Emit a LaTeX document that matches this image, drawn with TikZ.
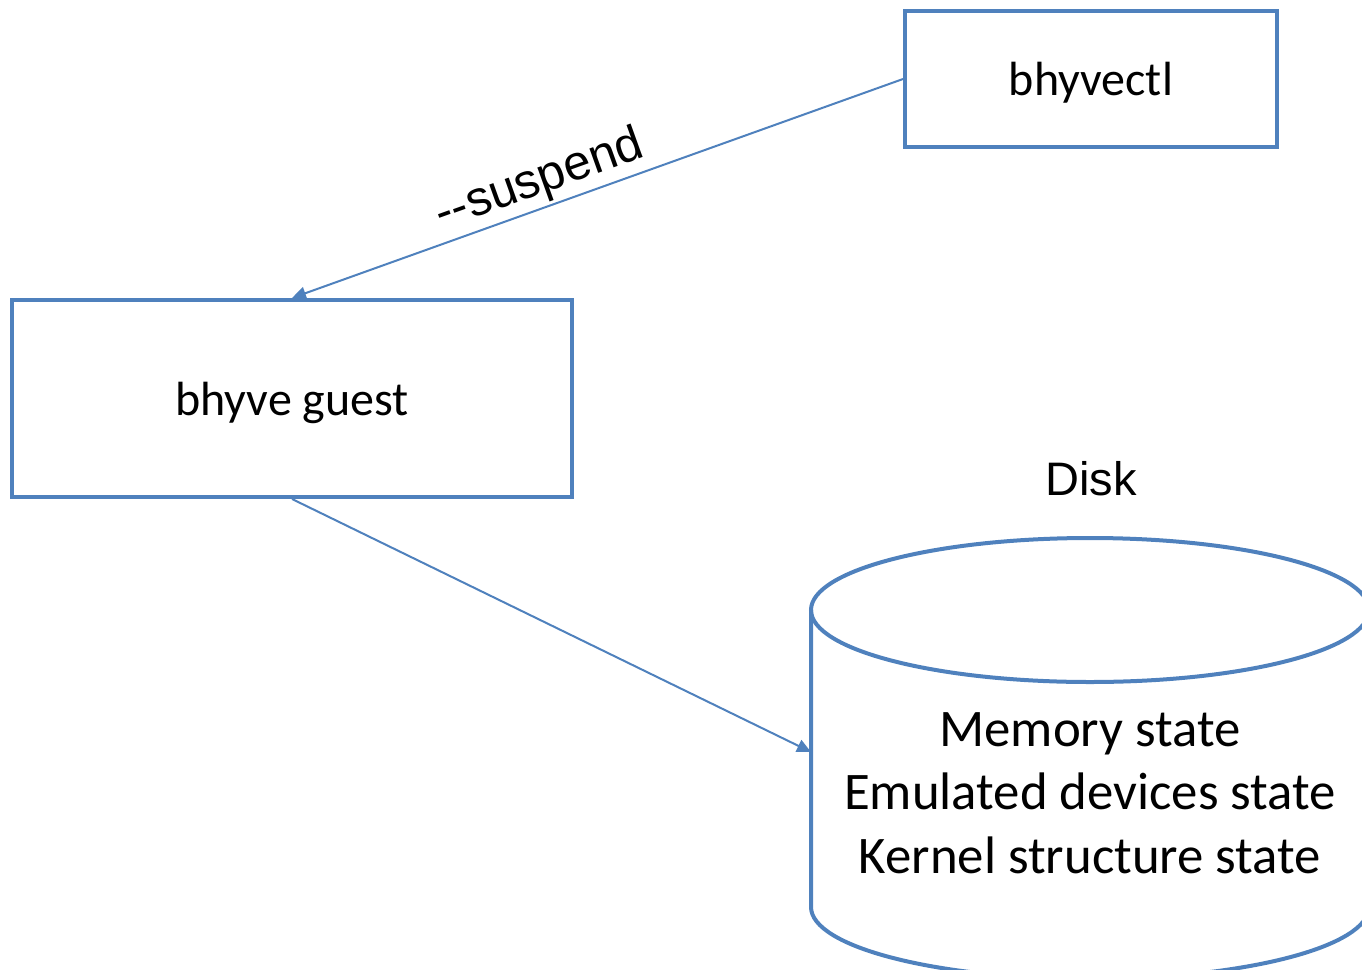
\documentclass[tikz,border=0pt]{standalone}
\usepackage{fontspec}
\setmainfont{Carlito}
\newfontfamily\arialfont{Liberation Sans}
\usepackage{tikz}
\usetikzlibrary{arrows.meta}
\usetikzlibrary{positioning}
\definecolor{boxblue}{RGB}{79,129,189}

\begin{document}
\begin{tikzpicture}[x=0.5pt, y=-0.5pt,
    box/.style={draw=boxblue, line width=2pt, inner sep=0pt, text depth=0pt, font=\fontsize{24}{29}\selectfont},
    link/.style={draw=boxblue, line width=1pt, -{Triangle[length=7pt,width=6.5pt]}},
    disk/.style={draw=boxblue, line width=2pt}]
      \useasboundingbox (0,0) rectangle (1362,970);
      \clip (0,0) rectangle (1362,970);
      \node[box, minimum width=186pt, minimum height=68pt] (ctl) at (1091,79) {bhyvectl};
      \node[box, minimum width=280pt, minimum height=98.5pt] (guest) at (292,398.5) {bhyve guest};
      % disk cylinder, cut by the page edge
      \draw[disk] (1090,610) ellipse (279 and 72);
      \draw[disk] (811,610) -- (811,907) arc (180:0:279 and 72) -- (1369,610);
      \coordinate (disk) at (811,752);
      \node[font=\arialfont\fontsize{23.5}{28}\selectfont] (disklabel) at (1091,479) {Disk};
      \node[align=center, font=\fontsize{26.4}{31.75}\selectfont] (state) at (1090,793) {Memory state\\Emulated devices state\\Kernel structure state};
      \draw[link] (ctl.west) -- (guest.north) node[pos=0.58, above=-2pt, sloped, font=\arialfont\fontsize{24.5}{29}\selectfont] {-{}-suspend};
      \draw[link] (guest.south) -- (disk);
\end{tikzpicture}
\end{document}
